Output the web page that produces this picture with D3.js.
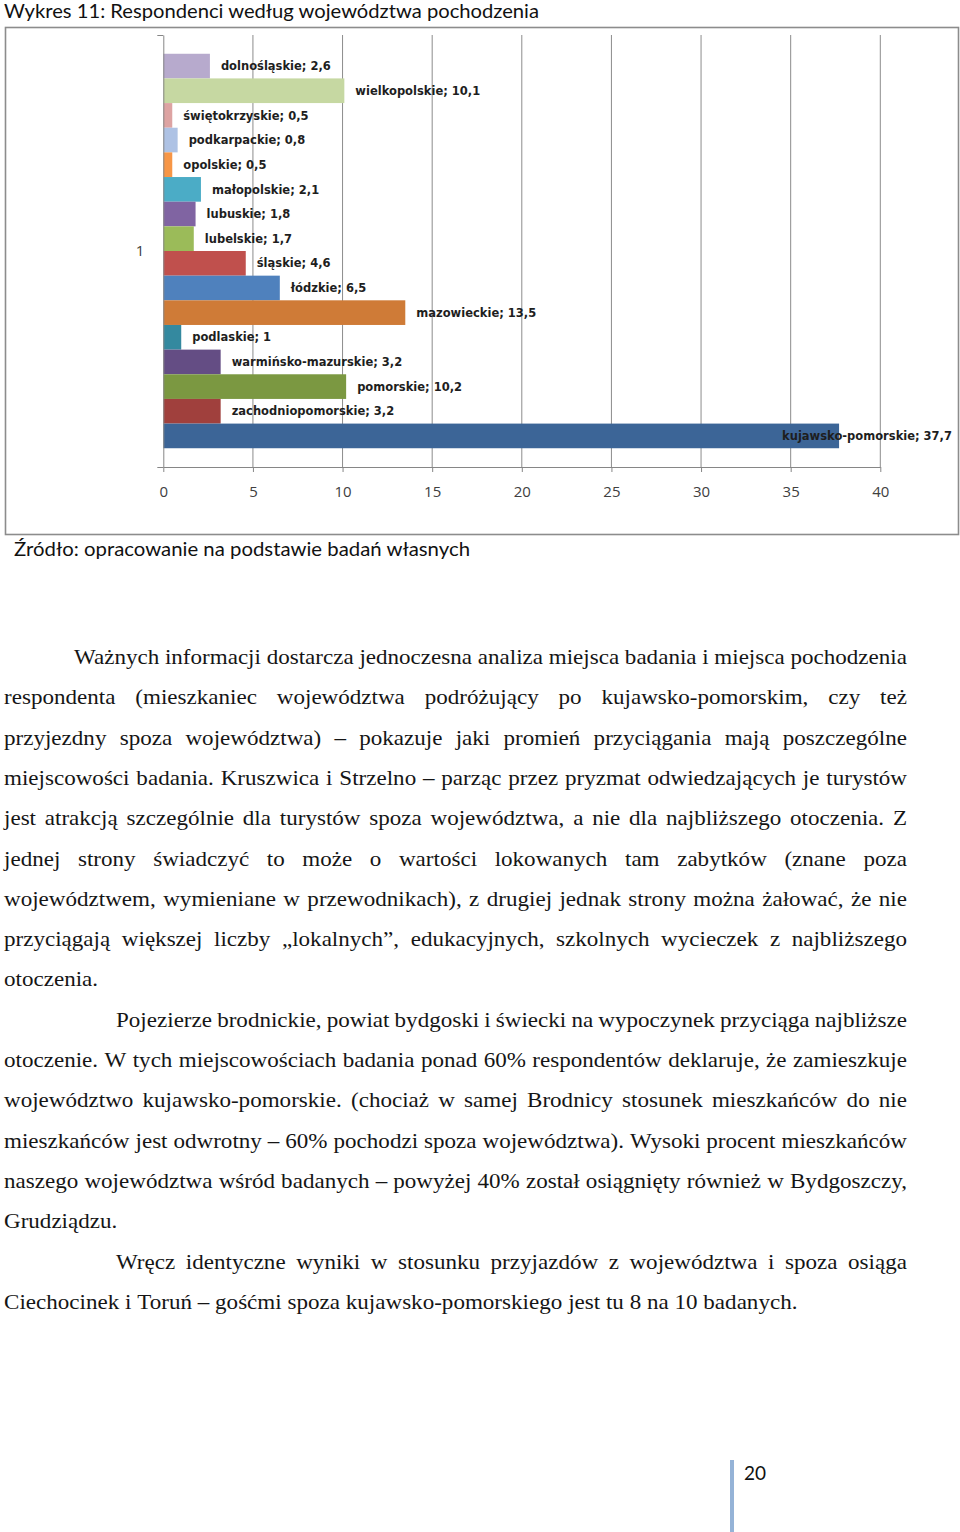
<!DOCTYPE html>
<html lang="pl">
<head>
<meta charset="utf-8">
<script src="https://cdn.jsdelivr.net/npm/d3@7"></script>
<style>
  body { margin: 0; background: #fff; }
  svg { display: block; }
</style>
</head>
<body>
<div id="page"></div>
<script>
// Chart data, top to bottom
const regions = [
  "dolnośląskie", "wielkopolskie", "świętokrzyskie", "podkarpackie", "opolskie",
  "małopolskie", "lubuskie", "lubelskie", "śląskie", "łódzkie", "mazowieckie",
  "podlaskie", "warmińsko-mazurskie", "pomorskie", "zachodniopomorskie", "kujawsko-pomorskie"
];
const shares = [2.6, 10.1, 0.5, 0.8, 0.5, 2.1, 1.8, 1.7, 4.6, 6.5, 13.5, 1, 3.2, 10.2, 3.2, 37.7];
const barColors = [
  "#b7aacd", "#c6d8a2", "#dda3a2", "#aec2e4", "#f79646", "#4bacc6", "#8064a2", "#9bbb59",
  "#c0504d", "#4f81bd", "#cf7b37", "#34899f", "#644d84", "#7b9841", "#a0403d", "#3c6597"
];
const categories = ["1"];
const xTicks = [0, 5, 10, 15, 20, 25, 30, 35, 40];

const titleText = "Wykres 11: Respondenci według województwa pochodzenia";
const sourceText = "Źródło: opracowanie na podstawie badań własnych";
const pageNumber = "20";

const paragraph1 = [
  "Ważnych informacji dostarcza jednoczesna analiza miejsca badania i miejsca pochodzenia",
  "respondenta (mieszkaniec województwa podróżujący po kujawsko-pomorskim, czy też",
  "przyjezdny spoza województwa) – pokazuje jaki promień przyciągania mają poszczególne",
  "miejscowości badania. Kruszwica i Strzelno – parząc przez pryzmat odwiedzających je turystów",
  "jest atrakcją szczególnie dla turystów spoza województwa, a nie dla najbliższego otoczenia. Z",
  "jednej strony świadczyć to może o wartości lokowanych tam zabytków (znane poza",
  "województwem, wymieniane w przewodnikach), z drugiej jednak strony można żałować, że nie",
  "przyciągają większej liczby „lokalnych”, edukacyjnych, szkolnych wycieczek z najbliższego",
  "otoczenia."
];
const paragraph2 = [
  "Pojezierze brodnickie, powiat bydgoski i świecki na wypoczynek przyciąga najbliższe",
  "otoczenie. W tych miejscowościach badania ponad 60% respondentów deklaruje, że zamieszkuje",
  "województwo kujawsko-pomorskie. (chociaż w samej Brodnicy stosunek mieszkańców do nie",
  "mieszkańców jest odwrotny – 60% pochodzi spoza województwa). Wysoki procent mieszkańców",
  "naszego województwa wśród badanych – powyżej 40% został osiągnięty również w Bydgoszczy,",
  "Grudziądzu."
];
const paragraph3 = [
  "Wręcz identyczne wyniki w stosunku przyjazdów z województwa i spoza osiąga",
  "Ciechocinek i Toruń – gośćmi spoza kujawsko-pomorskiego jest tu 8 na 10 badanych."
];

const W = 960, H = 1532;
const sansFont = "Lato, 'Open Sans', sans-serif";
const axisGray = "#868686";

const svg = d3.select("#page").append("svg")
  .attr("width", W)
  .attr("height", H);

svg.append("rect").attr("width", W).attr("height", H).attr("fill", "#fff");

// caption above the chart
svg.append("text")
  .attr("x", 4).attr("y", 18)
  .attr("font-family", sansFont).attr("font-size", 19)
  .attr("fill", "#111")
  .attr("textLength", 535).attr("lengthAdjust", "spacingAndGlyphs")
  .text(titleText);

// chart frame
svg.append("rect")
  .attr("x", 5.5).attr("y", 27.5)
  .attr("width", 953).attr("height", 507)
  .attr("fill", "#fff")
  .attr("stroke", "#8c8c8c")
  .attr("stroke-width", 1.6);

// scales
const x = d3.scaleLinear().domain([0, 40]).range([163.3, 880.3]);
const yCat = d3.scaleBand().domain(categories).range([35, 467]).padding(0.0454);
const yBar = d3.scaleBand().domain(regions)
  .range([yCat(categories[0]), yCat(categories[0]) + yCat.bandwidth()]);

// gridlines
svg.append("g")
  .selectAll("line")
  .data(xTicks.slice(1))
  .join("line")
  .attr("x1", d => x(d)).attr("x2", d => x(d))
  .attr("y1", 35).attr("y2", 467)
  .attr("stroke", "#8c8c8c").attr("stroke-width", 1);

// bars
svg.append("g")
  .selectAll("rect")
  .data(regions)
  .join("rect")
  .attr("x", x(0))
  .attr("y", d => yBar(d))
  .attr("width", (d, i) => x(shares[i]) - x(0))
  .attr("height", yBar.bandwidth())
  .attr("fill", (d, i) => barColors[i]);

// x axis
const xAxis = svg.append("g")
  .attr("transform", "translate(0,467)")
  .call(d3.axisBottom(x).tickValues(xTicks).tickSize(5).tickSizeOuter(0).tickPadding(14.5));
xAxis.select(".domain").attr("stroke", axisGray);
xAxis.selectAll(".tick line").attr("stroke", axisGray);
xAxis.selectAll(".tick text")
  .attr("font-family", "'Open Sans', sans-serif")
  .attr("font-size", 15)
  .attr("fill", "#404040");

// y (category) axis with ticks at band edges
const yEdge = d3.scaleLinear().domain([0, 1]).range([467, 35]);
const yAxis = svg.append("g")
  .attr("transform", `translate(${x(0)},0)`)
  .call(d3.axisLeft(yEdge).tickValues([0, 1]).tickSize(6).tickSizeOuter(0).tickFormat(""));
yAxis.select(".domain").attr("stroke", axisGray);
yAxis.selectAll(".tick line").attr("stroke", axisGray);

svg.append("g")
  .selectAll("text")
  .data(categories)
  .join("text")
  .attr("x", 140)
  .attr("y", d => yCat(d) + yCat.bandwidth() / 2)
  .attr("dy", "0.35em")
  .attr("text-anchor", "middle")
  .attr("font-family", "'Open Sans', sans-serif")
  .attr("font-size", 15)
  .attr("fill", "#404040")
  .text(d => d);

// data labels
const chartRight = 952;
const labels = svg.append("g")
  .attr("font-family", "'DejaVu Sans', Verdana, sans-serif")
  .attr("font-weight", "bold")
  .attr("font-size", 11.5)
  .attr("fill", "#1e1e1e")
  .selectAll("text")
  .data(regions)
  .join("text")
  .attr("y", d => yBar(d) + yBar.bandwidth() / 2)
  .attr("dy", "0.36em")
  .text((d, i) => `${d}; ${String(shares[i]).replace(".", ",")}`);
labels.attr("x", function(d, i) {
  const w = this.getComputedTextLength();
  return Math.min(x(shares[i]) + 11, chartRight - w);
});

// source line
svg.append("text")
  .attr("x", 14).attr("y", 556)
  .attr("font-family", sansFont).attr("font-size", 19)
  .attr("fill", "#111")
  .attr("textLength", 456).attr("lengthAdjust", "spacingAndGlyphs")
  .text(sourceText);

// body text, justified word by word
const textLeft = 4, textRight = 907;
const firstBaseline = 664, lineStep = 40.3;
const indents = [74, 116, 116];
const paragraphs = [paragraph1, paragraph2, paragraph3];

const body = svg.append("g")
  .attr("font-family", "'Liberation Serif', 'Times New Roman', serif")
  .attr("font-size", 20)
  .attr("fill", "#151515");

const probe = body.append("text").attr("visibility", "hidden");
function measure(s) {
  probe.text(s);
  return probe.node().getComputedTextLength();
}
const spaceW = measure("a a") - measure("aa");

// horizontal squeeze taken from the last line of the page (793 px wide)
const lastLine = paragraph3[paragraph3.length - 1];
const sx = 793 / measure(lastLine);

let lineNo = 0;
paragraphs.forEach((lines, p) => {
  lines.forEach((line, li) => {
    const words = line.split(" ");
    const raw = words.map(measure);
    const start = li === 0 ? indents[p] : textLeft;
    const justify = li < lines.length - 1;
    let s = sx;
    let gap = spaceW * sx;
    if (justify && words.length > 1) {
      const sum = d3.sum(raw) * s;
      gap = (textRight - start - sum) / (words.length - 1);
      const minGap = spaceW * sx * 0.7;
      if (gap < minGap) {
        gap = minGap;
        s = (textRight - start - minGap * (words.length - 1)) / d3.sum(raw);
      }
    }
    const yb = firstBaseline + lineNo * lineStep;
    let cx = start;
    words.forEach((w, k) => {
      body.append("text")
        .attr("transform", `translate(${cx},${yb}) scale(${s},1)`)
        .text(w);
      cx += raw[k] * s + gap;
    });
    lineNo++;
  });
});
probe.remove();

// page number with side rule
svg.append("rect")
  .attr("x", 730).attr("y", 1460)
  .attr("width", 4).attr("height", 72)
  .attr("fill", "#95b3d7");
svg.append("text")
  .attr("x", 744).attr("y", 1480)
  .attr("font-family", sansFont).attr("font-size", 19)
  .attr("fill", "#111")
  .text(pageNumber);
</script>
</body>
</html>
